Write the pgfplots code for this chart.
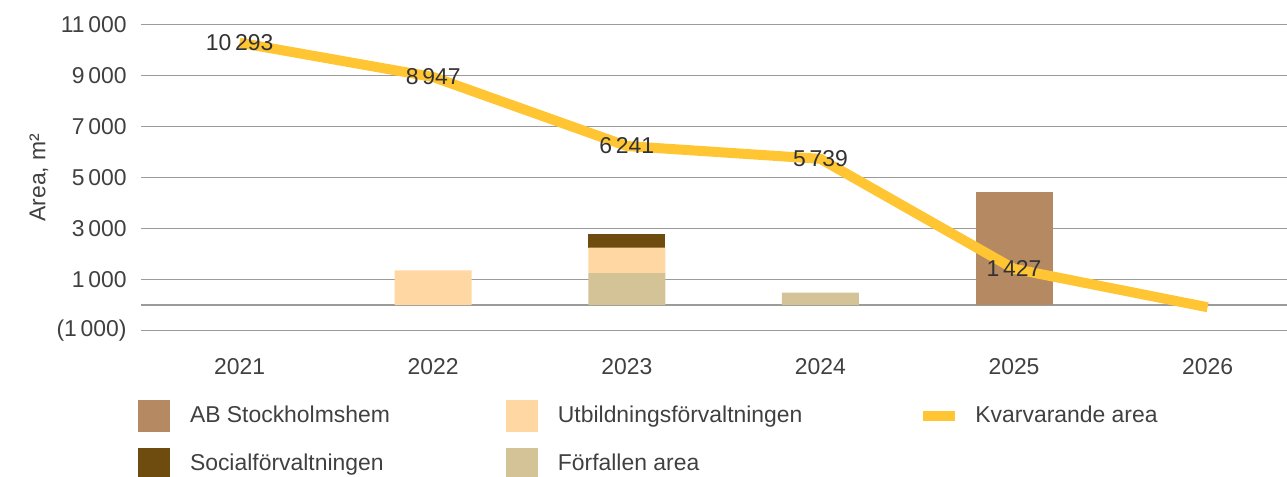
\documentclass[border=0pt]{standalone}
\usepackage{pgfplots}
\pgfplotsset{compat=1.18}
\usepackage{fontspec}
\setmainfont{Liberation Sans}
\definecolor{abst}{RGB}{181,138,98}
\definecolor{utb}{RGB}{255,215,163}
\definecolor{soc}{RGB}{110,75,15}
\definecolor{forf}{RGB}{212,195,151}
\definecolor{kvar}{RGB}{255,197,51}
\definecolor{gridc}{RGB}{155,155,155}
\definecolor{txt}{RGB}{64,64,64}
\definecolor{lbl}{RGB}{50,50,50}
\newcommand{\fs}{\fontsize{11.5}{14}\selectfont}
\pgfplotsset{
  base/.style={
    scale only axis, width=573bp, height=153bp,
    xmin=-0.509, xmax=5.41, ymin=-1000, ymax=11000,
    axis line style={draw=none}, tick style={draw=none},
    scaled y ticks=false, scaled x ticks=false,
  },
  sqimg/.style={legend image code/.code={\fill[##1] (0bp,-8bp) rectangle (16bp,8bp);}},
  lnimg/.style={legend image code/.code={\fill[##1] (0bp,-2.5bp) rectangle (16bp,2.5bp);}},
}
\begin{document}
\begin{tikzpicture}
\begin{axis}[base, name=ax,
  ybar stacked, bar width=38.5bp,
  xtick={0,...,5}, ytick={-1000,1000,...,11000},
  ymajorgrids, grid style={gridc, line width=0.75bp},
  extra y ticks={0}, extra y tick labels={}, extra y tick style={grid=major},
  xticklabels={2021,2022,2023,2024,2025,2026},
  yticklabels={(1\,000),1\,000,3\,000,5\,000,7\,000,9\,000,11\,000},
  xticklabel style={font=\fs, text=txt, inner sep=0pt, anchor=north, yshift=-13.8bp},
  yticklabel style={font=\fs, text=txt, inner sep=0pt, anchor=east, xshift=-7bp},
  ylabel={Area, m²},
  ylabel style={font=\fs, text=txt, at={(axis description cs:-0.0890,0.5)}, anchor=center},
]
\addplot[fill=forf, draw=none] coordinates {(0,0) (1,0) (2,1260) (3,490) (4,0) (5,0)};
\addplot[fill=utb, draw=none] coordinates {(0,0) (1,1370) (2,1000) (3,0) (4,0) (5,0)};
\addplot[fill=soc, draw=none] coordinates {(0,0) (1,0) (2,550) (3,0) (4,0) (5,0)};
\addplot[fill=abst, draw=none] coordinates {(0,0) (1,0) (2,0) (3,0) (4,4440) (5,0)};
\end{axis}
\begin{axis}[base, xtick=\empty, ytick=\empty, clip=false,
  legend columns=3,
  legend style={at={(axis description cs:-0.0026,-0.2265)}, anchor=north west,
    draw=none, fill=none, inner sep=0pt, outer sep=0pt, font=\fs, text=txt,
    row sep=8bp, cells={anchor=west, inner sep=0pt},
    /tikz/every odd column/.append style={column sep=8bp},
    /tikz/column 2/.append style={column sep=56bp},
    /tikz/column 4/.append style={column sep=58.5bp}},
]
\addlegendimage{sqimg, fill=abst, draw=none}
\addlegendentry{AB Stockholmshem}
\addlegendimage{sqimg, fill=utb, draw=none}
\addlegendentry{Utbildningsförvaltningen}
\addlegendimage{lnimg, fill=kvar, draw=none}
\addlegendentry{Kvarvarande area}
\addlegendimage{sqimg, fill=soc, draw=none}
\addlegendentry{Socialförvaltningen}
\addlegendimage{sqimg, fill=forf, draw=none}
\addlegendentry{Förfallen area}
\addplot[kvar, line width=5bp, line join=round, mark=none, forget plot]
  coordinates {(0,10293) (1,8947) (2,6241) (3,5739) (4,1427) (5,-80)};
\addplot[draw=none, mark=none, forget plot, point meta=explicit symbolic,
  nodes near coords, nodes near coords style={font=\fs, text=lbl, anchor=center, inner sep=0pt}]
  coordinates {(0,10293) [10\,293] (1,8947) [8\,947] (2,6241) [6\,241] (3,5739) [5\,739] (4,1427) [1\,427]};
\end{axis}
\pgfresetboundingbox
\path ([shift={(-70.5bp,-73.15bp)}]ax.south west) rectangle ([shift={(0bp,12.35bp)}]ax.north east);
\end{tikzpicture}
\end{document}
